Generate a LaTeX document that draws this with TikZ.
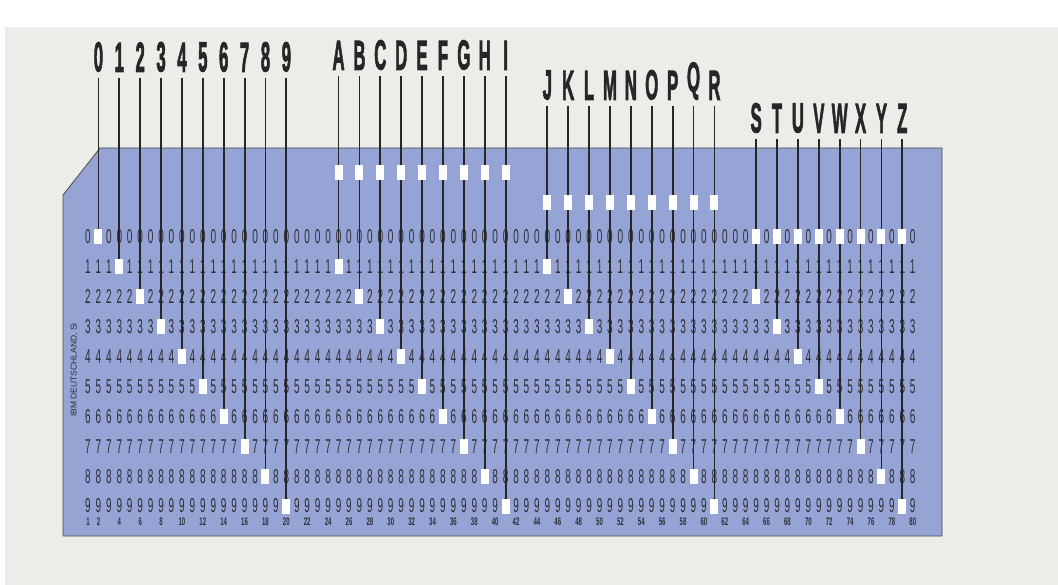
\documentclass[tikz,border=0pt]{standalone}
\usepackage{fontspec}
\setmainfont{Liberation Sans}
\newfontfamily\heavyfont{Liberation Sans}[BoldFeatures={FakeBold=2.5}]
\usetikzlibrary{positioning}
\definecolor{cardblue}{RGB}{150,164,213}
\definecolor{paper}{RGB}{236,236,233}
\definecolor{ink}{RGB}{45,45,55}

\begin{document}
\begin{tikzpicture}[x=1pt, y=-1pt,
  glyph/.style={inner sep=0pt, font=\fontsize{20}{20}\selectfont, text=ink, xscale=0.5},
  colnum/.style={inner sep=0pt, font=\fontsize{11}{11}\selectfont\bfseries, text=ink, xscale=0.55},
  charlbl/.style={inner sep=0pt, anchor=south, font=\heavyfont\fontsize{42}{42}\selectfont\bfseries,
                  text=black!85, xscale=0.4},
  hole/.style={fill=white, inner sep=0pt, minimum width=8pt, minimum height=15pt},
  wire/.style={line width=1.8pt, black!85, shorten <=6pt}
]
\useasboundingbox (0,0) rectangle (1058,585);
\fill[white] (0,0) rectangle (1058,585);
\fill[paper] (5,27) rectangle (1058,585);

\draw[fill=cardblue, draw=black!70, line width=0.8pt]
  (63,195) -- (100,148) -- (942,148) -- (942,536) -- (63,536) -- cycle;

\node[font=\fontsize{8.5}{8.5}\selectfont, text=ink, rotate=90] (maker) at (74,370) {IBM DEUTSCHLAND, Si};

\foreach \r in {0,...,9}
  \foreach \c in {1,...,80}
    \node[glyph] (n\c-\r) at ({88+(\c-1)*10.44}, {237+\r*29.9}) {\r};

\node[colnum] (k1) at (88,522) {1};
\foreach \c in {2,4,...,80}
  \node[colnum] (k\c) at ({88+(\c-1)*10.44}, 522) {\c};

% digits 0-9
\foreach \d in {0,...,9}{
  \pgfmathsetmacro\hx{88+(2*\d+1)*10.44}
  \node[charlbl] (t\d) at (\hx,72) {\d};
  \coordinate (p\d) at (\hx, {237+\d*29.9});
  \draw[wire] (t\d.south) -- (p\d);
  \node[hole] (h\d) at (p\d) {};
}

% A-I: zone 12
\foreach \l [count=\i from 0] in {A,...,I}{
  \pgfmathsetmacro\hx{88+(24+2*\i)*10.44}
  \node[charlbl] (t\l) at (\hx,70) {\l};
  \coordinate (z\l) at (\hx,173);
  \coordinate (p\l) at (\hx, {237+(\i+1)*29.9});
  \draw[wire] (t\l.south) -- (p\l);
  \node[hole] (hz\l) at (z\l) {};
  \node[hole] (h\l) at (p\l) {};
}

% J-R: zone 11
\foreach \l [count=\i from 0] in {J,...,R}{
  \pgfmathsetmacro\hx{88+(44+2*\i)*10.44}
  \node[charlbl] (t\l) at (\hx,100) {\l};
  \coordinate (z\l) at (\hx,203);
  \coordinate (p\l) at (\hx, {237+(\i+1)*29.9});
  \draw[wire] (t\l.south) -- (p\l);
  \node[hole] (hz\l) at (z\l) {};
  \node[hole] (h\l) at (p\l) {};
}

% S-Z: zone 0
\foreach \l [count=\i from 0] in {S,...,Z}{
  \pgfmathsetmacro\hx{88+(64+2*\i)*10.44}
  \node[charlbl] (t\l) at (\hx,133) {\l};
  \coordinate (z\l) at (\hx,237);
  \coordinate (p\l) at (\hx, {237+(\i+2)*29.9});
  \draw[wire] (t\l.south) -- (p\l);
  \node[hole] (hz\l) at (z\l) {};
  \node[hole] (h\l) at (p\l) {};
}
\end{tikzpicture}
\end{document}
